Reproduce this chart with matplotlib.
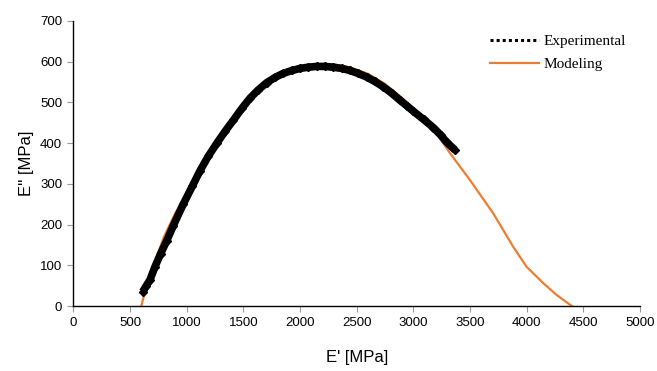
import matplotlib.pyplot as plt
from matplotlib.lines import Line2D

plt.rcParams['font.family'] = ['Liberation Sans', 'DejaVu Sans']

# Datos (E' y E'' en MPa)
exp_e1 = [612, 640, 676, 720, 770, 824, 880, 970, 1050, 1118, 1190, 1265, 1340, 1412,
          1490, 1559, 1630, 1706, 1780, 1853, 1930, 2000, 2070, 2147, 2220, 2294, 2370,
          2441, 2510, 2588, 2660, 2735, 2810, 2882, 2940, 3000, 3090, 3176, 3240, 3294, 3368]
exp_e2 = [35, 48, 64, 96, 128, 160, 196, 250, 294, 332, 367, 399, 429, 456,
          486, 510, 530, 548, 561, 571, 578, 583, 586, 588, 588, 586, 583,
          578, 571, 562, 551, 538, 522, 505, 492, 478, 458, 438, 420, 402, 383]

mod_e1 = [600, 650, 700, 800, 900, 1000, 1200, 1400, 1600, 1800, 2000, 2150, 2300, 2450,
          2600, 2750, 2900, 3000, 3150, 3324, 3500, 3706, 3882, 4000, 4147, 4265, 4398]
mod_e2 = [0, 55, 95, 170, 228, 276, 376, 452, 524, 568, 588, 593, 593, 585,
          570, 545, 511, 484, 446, 375, 309, 227, 145, 96, 56, 27, 0]

color_mod = "#ED7D31"

fig = plt.figure(figsize=(6.57, 3.71), dpi=100)
ax = fig.add_axes([0.1116, 0.1752, 0.8625, 0.7688])

ax.plot(mod_e1, mod_e2, color=color_mod, lw=1.6, zorder=2)
ax.plot(exp_e1, exp_e2, color="black", lw=5.5, marker="D", markersize=4.5,
        solid_capstyle="butt", zorder=3)

ax.set_xlim(0, 5000)
ax.set_ylim(0, 700)
ax.set_xticks(range(0, 5001, 500))
ax.set_yticks(range(0, 701, 100))
ax.tick_params(direction="out", length=4, color="#999999", labelsize=9.5, pad=4)
for s in ["top", "right"]:
    ax.spines[s].set_visible(False)
for s in ["left", "bottom"]:
    ax.spines[s].set_linewidth(1.0)

ax.set_xlabel("E' [MPa]", fontsize=12, labelpad=15)
ax.set_ylabel("E'' [MPa]", fontsize=12, labelpad=4)

handles = [Line2D([], [], color="black", ls=(0, (1, 1)), lw=2.2),
           Line2D([], [], color=color_mod, lw=1.6)]
ax.legend(handles, ["Experimental", "Modeling"], loc="upper right",
          bbox_to_anchor=(1.0, 1.0), frameon=False, handlelength=3.2,
          handletextpad=0.3, labelspacing=0.6,
          prop={"family": "Liberation Serif", "size": 11})

fig.savefig("out.png", dpi=100)
